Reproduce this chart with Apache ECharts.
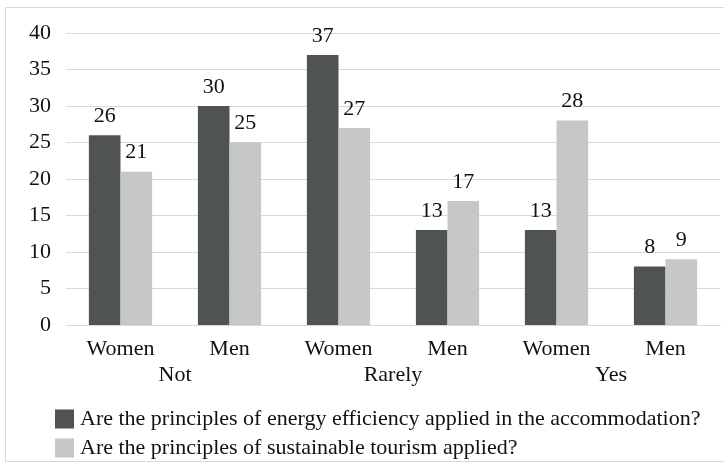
<!DOCTYPE html>
<html>
<head>
<meta charset="utf-8">
<script src="https://cdn.jsdelivr.net/npm/echarts@6/dist/echarts.min.js"></script>
<style>
  html, body { margin: 0; padding: 0; background: #ffffff; }
  #chart { width: 724px; height: 464px; }
</style>
</head>
<body>
<div id="chart"></div>
<script>
// Survey answers split by frequency group and gender
const groups = ['Not', 'Rarely', 'Yes'];
const genders = ['Women', 'Men', 'Women', 'Men', 'Women', 'Men'];
const seriesNames = [
  'Are the principles of energy efficiency applied in the accommodation?',
  'Are the principles of sustainable tourism applied?'
];
const energyEfficiency = [26, 30, 37, 13, 13, 8];
const sustainableTourism = [21, 25, 27, 17, 28, 9];
const yTicks = { min: 0, max: 40, interval: 5 };

const FONT = '"Liberation Serif", "Times New Roman", serif';
const FS = 22;
const DARK = '#505354';
const LIGHT = '#c6c7c9';

const chart = echarts.init(document.getElementById('chart'), null, { renderer: 'canvas' });

const barLabel = {
  show: true,
  position: 'top',
  distance: 8,
  color: '#111',
  fontFamily: FONT,
  fontSize: FS
};

chart.setOption({
  animation: false,
  backgroundColor: '#ffffff',
  textStyle: { fontFamily: FONT },
  graphic: [{
    type: 'rect',
    shape: { x: 5.5, y: 7.5, width: 730, height: 454 },
    style: { fill: 'none', stroke: '#d9d9d9', lineWidth: 1 },
    silent: true,
    z: -1
  }],
  grid: { left: 66, right: 4, top: 33, bottom: 139, containLabel: false },
  legend: {
    orient: 'vertical',
    left: 50,
    top: 403,
    itemWidth: 19,
    itemHeight: 19,
    itemGap: 7,
    icon: 'rect',
    textStyle: { fontFamily: FONT, fontSize: FS, color: '#111', padding: [0, 0, 0, 1] },
    data: seriesNames
  },
  xAxis: [{
    type: 'category',
    data: genders,
    position: 'bottom',
    axisLine: { show: true, lineStyle: { color: '#d9d9d9', width: 1 } },
    axisTick: { show: false },
    axisLabel: { color: '#111', fontFamily: FONT, fontSize: FS, margin: 13 }
  }, {
    type: 'category',
    data: groups,
    position: 'bottom',
    offset: 26,
    axisLine: { show: false },
    axisTick: { show: false },
    axisLabel: { color: '#111', fontFamily: FONT, fontSize: FS, margin: 13 }
  }],
  yAxis: {
    type: 'value',
    min: yTicks.min,
    max: yTicks.max,
    interval: yTicks.interval,
    axisLine: { show: false },
    axisTick: { show: false },
    axisLabel: { color: '#111', fontFamily: FONT, fontSize: FS, margin: 15 },
    splitLine: { lineStyle: { color: '#d9d9d9', width: 1 } }
  },
  series: [{
    name: seriesNames[0],
    type: 'bar',
    xAxisIndex: 0,
    data: energyEfficiency,
    barGap: '0%',
    barCategoryGap: '42%',
    itemStyle: { color: DARK },
    label: barLabel
  }, {
    name: seriesNames[1],
    type: 'bar',
    xAxisIndex: 0,
    data: sustainableTourism,
    barGap: '0%',
    barCategoryGap: '42%',
    itemStyle: { color: LIGHT },
    label: barLabel
  }]
});
</script>
</body>
</html>
